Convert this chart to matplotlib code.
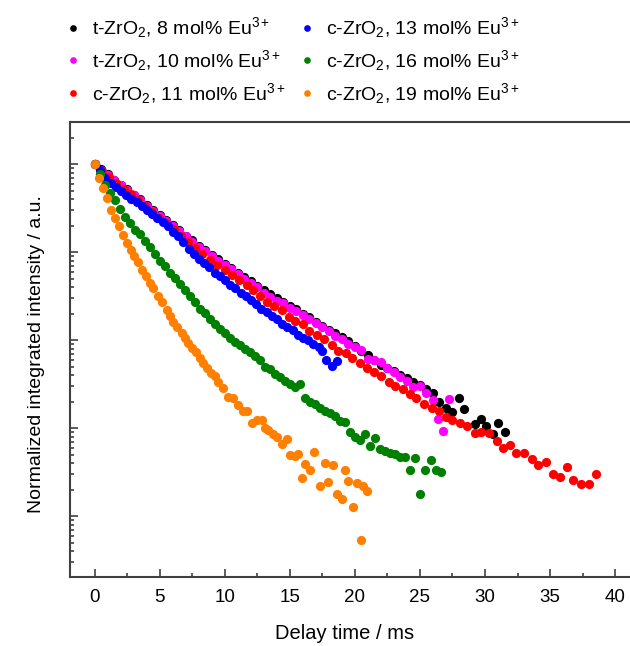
import numpy as np
import matplotlib
matplotlib.use('Agg')
import matplotlib.pyplot as plt
from matplotlib.ticker import MultipleLocator, LogLocator, NullFormatter
from matplotlib.lines import Line2D

plt.rcParams['font.family'] = 'Liberation Sans'
plt.rcParams['mathtext.fontset'] = 'custom'
plt.rcParams['mathtext.rm'] = 'Liberation Sans'
plt.rcParams['mathtext.it'] = 'Liberation Sans:italic'

# delay time (ms) and log10 of normalized integrated intensity
t8_x = [0.0, 0.5, 1.0, 1.5, 2.0, 2.5, 3.0, 3.5, 4.0, 4.5, 5.0, 5.5, 6.0, 6.5, 7.0, 7.5, 8.0, 8.5, 9.0, 9.5,
        10.0, 10.5, 11.0, 11.5, 12.0, 12.5, 13.0, 13.5, 14.0, 14.5, 15.0, 15.5, 16.0, 16.5, 17.0, 17.5,
        18.0, 18.5, 19.0, 19.5, 20.0, 20.5, 21.0, 21.5, 22.0, 22.5, 23.0, 23.5, 24.0, 24.5, 25.0, 25.5,
        26.0, 26.5, 27.0, 27.5, 28.0, 28.4, 29.2, 29.7, 30.1, 30.6, 31.0, 31.5]
t8_log = [0.0, -0.055, -0.115, -0.175, -0.23, -0.285, -0.345, -0.40, -0.46, -0.52, -0.575, -0.635, -0.69,
          -0.75, -0.81, -0.865, -0.925, -0.975, -1.03, -1.08, -1.13, -1.18, -1.23, -1.28, -1.33, -1.38,
          -1.43, -1.48, -1.52, -1.565, -1.61, -1.65, -1.70, -1.74, -1.79, -1.84, -1.88, -1.92, -1.96,
          -2.01, -2.06, -2.12, -2.17, -2.22, -2.28, -2.31, -2.35, -2.39, -2.43, -2.47, -2.51, -2.56,
          -2.60, -2.70, -2.77, -2.82, -2.66, -2.78, -2.95, -2.90, -2.97, -3.065, -2.94, -3.045]

t10_x = [0.0, 0.5, 1.0, 1.5, 2.0, 2.5, 3.0, 3.5, 4.0, 4.5, 5.0, 5.5, 6.0, 6.5, 7.0, 7.5, 8.0, 8.5, 9.0, 9.5,
         10.0, 10.5, 11.0, 11.5, 12.0, 12.5, 13.0, 13.5, 14.0, 14.5, 15.0, 15.5, 16.0, 16.5, 17.0, 17.5,
         18.0, 18.5, 19.0, 19.5, 20.0, 20.5, 21.0, 21.5, 22.0, 22.5, 23.0, 23.5, 24.0, 24.5, 25.0, 25.5,
         26.0, 26.4, 26.8, 27.2]
t10_log = [0.0, -0.06, -0.12, -0.18, -0.235, -0.29, -0.35, -0.41, -0.47, -0.53, -0.585, -0.645, -0.70,
           -0.76, -0.82, -0.88, -0.94, -0.99, -1.04, -1.10, -1.14, -1.19, -1.25, -1.30, -1.35, -1.40,
           -1.46, -1.51, -1.55, -1.58, -1.63, -1.67, -1.71, -1.76, -1.80, -1.85, -1.90, -1.95, -1.99,
           -2.04, -2.08, -2.11, -2.21, -2.22, -2.25, -2.31, -2.36, -2.42, -2.46, -2.53, -2.52, -2.60,
           -2.68, -2.89, -3.03, -2.67]

c11_x = [0.0, 0.55, 1.1, 1.65, 2.2, 2.75, 3.3, 3.85, 4.4, 4.95, 5.5, 6.05, 6.6, 7.15, 7.7, 8.25, 8.85,
         9.36, 10.0, 10.51, 11.1, 11.67, 12.18, 12.7, 13.2, 13.77, 14.36, 14.9, 15.4, 16.0, 16.5, 17.1,
         17.6, 18.2, 18.7, 19.3, 19.8, 20.4, 20.9, 21.5, 22.0, 22.6, 23.1, 23.7, 24.2, 24.7, 25.3, 25.9,
         26.5, 27.0, 27.5, 28.1, 28.6, 29.2, 29.7, 30.3, 30.9, 31.4, 31.9, 32.4, 33.0, 33.6, 34.1, 34.7,
         35.2, 35.8, 36.3, 36.8, 37.4, 38.0, 38.5]
c11_log = [0.0, -0.075, -0.145, -0.21, -0.275, -0.34, -0.405, -0.47, -0.54, -0.605, -0.67, -0.74, -0.81,
           -0.88, -0.95, -1.02, -1.09, -1.14, -1.20, -1.26, -1.32, -1.37, -1.43, -1.50, -1.56, -1.61,
           -1.66, -1.74, -1.78, -1.82, -1.90, -1.94, -1.99, -2.05, -2.12, -2.15, -2.20, -2.26, -2.31,
           -2.36, -2.41, -2.47, -2.52, -2.56, -2.61, -2.66, -2.73, -2.77, -2.81, -2.875, -2.91, -2.94,
           -2.98, -3.05, -3.04, -3.06, -3.15, -3.22, -3.19, -3.28, -3.28, -3.35, -3.42, -3.39, -3.52,
           -3.56, -3.44, -3.59, -3.63, -3.64, -3.52]

c13_x = [0.0, 0.4, 0.8, 1.2, 1.6, 2.0, 2.4, 2.8, 3.2, 3.6, 4.0, 4.4, 4.8, 5.2, 5.6, 6.0, 6.4, 6.8, 7.2,
         7.6, 8.0, 8.4, 8.8, 9.2, 9.6, 10.0, 10.4, 10.8, 11.2, 11.6, 12.0, 12.4, 12.8, 13.2, 13.6, 14.0,
         14.4, 14.8, 15.2, 15.6, 16.0, 16.4, 16.8, 17.2, 17.5, 17.8, 18.2, 18.6]
c13_log = [0.0, -0.07, -0.15, -0.21, -0.255, -0.30, -0.345, -0.39, -0.43, -0.475, -0.52, -0.565, -0.61,
           -0.655, -0.70, -0.77, -0.82, -0.88, -0.96, -1.02, -1.08, -1.12, -1.17, -1.235, -1.275, -1.31,
           -1.37, -1.41, -1.46, -1.50, -1.54, -1.59, -1.645, -1.675, -1.73, -1.76, -1.81, -1.845, -1.88,
           -1.94, -1.97, -2.00, -2.04, -2.08, -2.12, -2.22, -2.29, -2.24]

c16_x = [0.0, 0.38, 0.77, 1.15, 1.54, 1.92, 2.31, 2.69, 3.08, 3.46, 3.85, 4.23, 4.62, 5.0, 5.38, 5.77,
         6.15, 6.54, 6.92, 7.31, 7.69, 8.08, 8.46, 8.85, 9.23, 9.62, 10.0, 10.38, 10.77, 11.15, 11.54,
         11.92, 12.31, 12.69, 13.08, 13.46, 13.85, 14.23, 14.62, 15.0, 15.38, 15.77, 16.15, 16.54, 16.92,
         17.31, 17.69, 18.08, 18.46, 18.85, 19.23, 19.62, 20.0, 20.38, 20.77, 21.15, 21.54, 21.92, 22.31,
         22.69, 23.08, 23.46, 23.85, 24.23, 24.62, 25.0, 25.38, 25.85, 26.2, 26.6]
c16_log = [0.0, -0.11, -0.23, -0.33, -0.41, -0.51, -0.595, -0.67, -0.75, -0.79, -0.87, -0.945, -1.015,
           -1.095, -1.16, -1.23, -1.29, -1.36, -1.43, -1.50, -1.57, -1.64, -1.69, -1.76, -1.81, -1.875,
           -1.92, -1.975, -2.02, -2.05, -2.10, -2.13, -2.18, -2.23, -2.30, -2.33, -2.38, -2.42, -2.46,
           -2.50, -2.53, -2.50, -2.66, -2.70, -2.73, -2.77, -2.80, -2.83, -2.86, -2.92, -2.93, -3.04,
           -3.10, -3.13, -3.07, -3.20, -3.11, -3.24, -3.26, -3.28, -3.29, -3.33, -3.33, -3.48, -3.34,
           -3.75, -3.48, -3.36, -3.48, -3.50]

c19_x = [0.0, 0.33, 0.64, 0.95, 1.23, 1.54, 1.85, 2.15, 2.44, 2.74, 3.03, 3.28, 3.59, 3.92, 4.23, 4.49,
         4.87, 5.13, 5.51, 5.77, 6.03, 6.28, 6.67, 6.92, 7.18, 7.44, 7.77, 8.08, 8.33, 8.64, 8.9, 9.23,
         9.49, 9.87, 10.26, 10.64, 11.03, 11.41, 11.72, 12.05, 12.44, 12.82, 13.08, 13.33, 13.67, 13.97,
         14.36, 14.74, 15.0, 15.38, 15.64, 15.9, 16.15, 16.54, 16.85, 17.31, 17.69, 17.95, 18.33, 18.59,
         18.97, 19.23, 19.49, 19.82, 20.13, 20.44, 20.64, 20.9]
c19_log = [0.0, -0.16, -0.27, -0.38, -0.52, -0.61, -0.70, -0.80, -0.89, -0.97, -1.04, -1.11, -1.20, -1.27,
           -1.35, -1.41, -1.50, -1.56, -1.66, -1.73, -1.79, -1.85, -1.92, -1.98, -2.03, -2.09, -2.13,
           -2.20, -2.26, -2.32, -2.375, -2.41, -2.47, -2.545, -2.64, -2.66, -2.735, -2.80, -2.81, -2.94,
           -2.91, -2.905, -3.0, -3.02, -3.065, -3.095, -3.18, -3.12, -3.30, -3.315, -3.29, -3.57, -3.41,
           -3.47, -3.27, -3.66, -3.40, -3.61, -3.42, -3.75, -3.81, -3.47, -3.60, -3.90, -3.62, -4.27,
           -3.66, -3.71]

labels = ['t-ZrO$_2$, 8 mol% Eu$^{3+}$', 't-ZrO$_2$, 10 mol% Eu$^{3+}$', 'c-ZrO$_2$, 11 mol% Eu$^{3+}$',
          'c-ZrO$_2$, 13 mol% Eu$^{3+}$', 'c-ZrO$_2$, 16 mol% Eu$^{3+}$', 'c-ZrO$_2$, 19 mol% Eu$^{3+}$']
colors = ['black', '#ff00ff', '#ff0000', '#0000ff', '#008000', '#ff8000']
xs = [t8_x, t10_x, c11_x, c13_x, c16_x, c19_x]
logs = [t8_log, t10_log, c11_log, c13_log, c16_log, c19_log]

fig = plt.figure(figsize=(6.3, 6.46), dpi=100)
ax = fig.add_axes([0.111, 0.107, 0.889, 0.704])

for x, lg, c in zip(xs, logs, colors):
    ax.scatter(x, np.power(10.0, lg), s=44, color=c, linewidths=0)

ax.set_yscale('log')
ax.set_xlim(-1.92, 41.15)
ax.set_ylim(2.04e-5, 3.02)

ax.xaxis.set_major_locator(MultipleLocator(5))
ax.xaxis.set_minor_locator(MultipleLocator(2.5))
ax.yaxis.set_major_locator(LogLocator(base=10, numticks=20))
ax.yaxis.set_minor_locator(LogLocator(base=10, subs=np.arange(2, 10), numticks=20))
ax.yaxis.set_major_formatter(NullFormatter())
ax.yaxis.set_minor_formatter(NullFormatter())

sc = '#404040'
for side in ['left', 'bottom', 'top']:
    ax.spines[side].set_linewidth(1.5)
    ax.spines[side].set_color(sc)
ax.spines['right'].set_visible(False)
ax.tick_params(which='major', direction='in', length=6, width=1.2, color=sc, labelsize=13.5, pad=9)
ax.tick_params(which='minor', direction='in', length=3, width=1.2, color=sc)
ax.tick_params(axis='y', which='both', right=False)

ax.set_xlabel('Delay time / ms', fontsize=14.5)
ax.set_ylabel('Normalized integrated intensity / a.u.', fontsize=14)
ax.xaxis.set_label_coords(0.49, -0.103)
ax.yaxis.set_label_coords(-0.045, 0.49)

handles = [Line2D([], [], ls='none', marker='o', ms=4.8, mec='none', mfc=c) for c in colors]
fig.legend(handles, labels, loc='upper left', bbox_to_anchor=(0.07, 1.003), ncol=2, frameon=False,
           fontsize=14, handletextpad=0.35, columnspacing=0.55, labelspacing=0.4, handlelength=1.2)

fig.savefig('out.png', dpi=100)
